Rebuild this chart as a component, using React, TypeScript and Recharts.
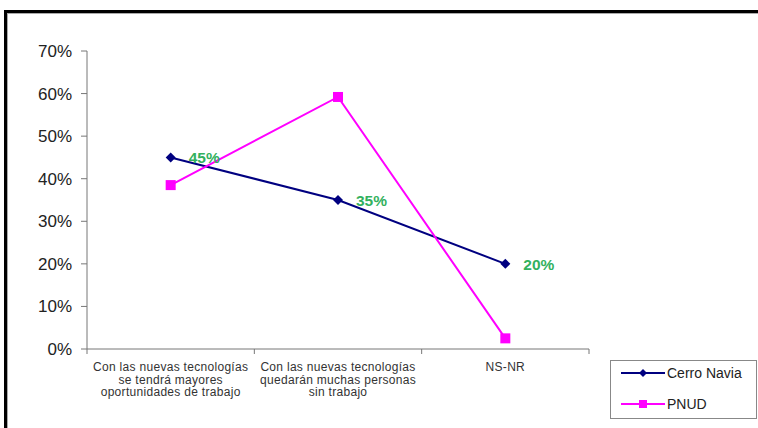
import React from 'react';
import {
  LineChart,
  Line,
  XAxis,
  YAxis,
  LabelList,
} from 'recharts';

const CATEGORIES = [
  ['Con las nuevas tecnologías', 'se tendrá mayores', 'oportunidades de trabajo'],
  ['Con las nuevas tecnologías', 'quedarán muchas personas', 'sin trabajo'],
  ['NS-NR'],
];
const CERRO_NAVIA = [45, 35, 20];
const PNUD = [38.5, 59.2, 2.5];
const Y_TICKS = [0, 10, 20, 30, 40, 50, 60, 70];
const X_BOUNDS = [0, 1, 2, 3];
const SERIES_NAMES = ['Cerro Navia', 'PNUD'];

const W = 758;
const H = 428;
const MARGIN = { top: 51, right: 169, bottom: 0, left: 27 };
const Y_WIDTH = 60;
const X_HEIGHT = 79;
const BAND = (W - MARGIN.left - MARGIN.right - Y_WIDTH) / CATEGORIES.length;
const FONT = 'Liberation Sans, Arial, sans-serif';

const data = CATEGORIES.map((c, i) => ({
  x: i + 0.5,
  cerro: CERRO_NAVIA[i],
  pnud: PNUD[i],
}));

const CategoryTick = (props: any) => {
  const { x, y, payload } = props;
  const lines = CATEGORIES[payload.value];
  if (!lines) return null;
  return (
    <text
      x={x + BAND / 2}
      y={y + 15}
      textAnchor="middle"
      fontSize={12}
      letterSpacing={0.3}
      fill="#333"
      fontFamily={FONT}
    >
      {lines.map((l, i) => (
        <tspan key={i} x={x + BAND / 2} dy={i === 0 ? 0 : 12.5}>
          {l}
        </tspan>
      ))}
    </text>
  );
};

const Diamond = (props: any) => {
  const { cx, cy } = props;
  if (cx == null) return null;
  return <path d={`M${cx},${cy - 5} L${cx + 5},${cy} L${cx},${cy + 5} L${cx - 5},${cy} Z`} fill="#000080" />;
};

const Square = (props: any) => {
  const { cx, cy } = props;
  if (cx == null) return null;
  return <rect x={cx - 5} y={cy - 5} width={10} height={10} fill="#ff00ff" />;
};

const LegendBox = () => (
  <svg width={148} height={60} style={{ display: 'block' }}>
    <rect x={0.5} y={0.5} width={146} height={58} fill="#fff" stroke="#888" />
    <line x1={11} y1={13} x2={55} y2={13} stroke="#000080" strokeWidth={2} />
    <path d="M33,9 L37,13 L33,17 L29,13 Z" fill="#000080" />
    <text x={57} y={18} fontSize={14} fill="#222" fontFamily={FONT}>
      {SERIES_NAMES[0]}
    </text>
    <line x1={11} y1={44} x2={55} y2={44} stroke="#ff00ff" strokeWidth={2} />
    <rect x={29} y={40} width={8} height={8} fill="#ff00ff" />
    <text x={57} y={49} fontSize={14} fill="#222" fontFamily={FONT}>
      {SERIES_NAMES[1]}
    </text>
  </svg>
);

const GreenLabel = (props: any) => {
  const { x, y, value } = props;
  return (
    <text x={x + 18} y={y + 6} fontSize={15.5} fill="#33b15e" fontWeight="bold" fontFamily={FONT}>
      {`${value}%`}
    </text>
  );
};

export default function App() {
  return (
    <div style={{ position: 'fixed', left: 0, top: 0, width: W, height: H, background: '#fff', overflow: 'hidden' }}>
      <div style={{ position: 'absolute', left: 0, top: 0 }}>
        <LineChart width={W} height={H} data={data} margin={MARGIN}>
          <XAxis
            dataKey="x"
            type="number"
            domain={[0, 3]}
            ticks={X_BOUNDS}
            tick={<CategoryTick />}
            tickSize={5}
            height={X_HEIGHT}
            stroke="#777"
            interval={0}
          />
          <YAxis
            domain={[0, 70]}
            ticks={Y_TICKS}
            tickFormatter={(v: number) => `${v}%`}
            width={Y_WIDTH}
            tickSize={6}
            tickMargin={9}
            stroke="#777"
            tick={{ fontSize: 17, fill: '#222', fontFamily: FONT }}
          />
          <Line
            dataKey="cerro"
            name={SERIES_NAMES[0]}
            stroke="#000080"
            strokeWidth={2}
            dot={<Diamond />}
            activeDot={false}
            isAnimationActive={false}
          >
            <LabelList dataKey="cerro" content={<GreenLabel />} />
          </Line>
          <Line
            dataKey="pnud"
            name={SERIES_NAMES[1]}
            stroke="#ff00ff"
            strokeWidth={2}
            dot={<Square />}
            activeDot={false}
            isAnimationActive={false}
          />
        </LineChart>
      </div>
      <div style={{ position: 'absolute', left: 610, top: 360 }}>
        <LegendBox />
      </div>
      <div style={{ position: 'absolute', left: 4, top: 10, width: W, height: 3, background: '#000' }} />
      <div style={{ position: 'absolute', left: 4, top: 13, width: W, height: 1, background: '#aaa' }} />
      <div style={{ position: 'absolute', left: 4, top: 10, width: 3, height: H, background: '#000' }} />
      <div style={{ position: 'absolute', left: 7, top: 13, width: 1, height: H, background: '#aaa' }} />
    </div>
  );
}
